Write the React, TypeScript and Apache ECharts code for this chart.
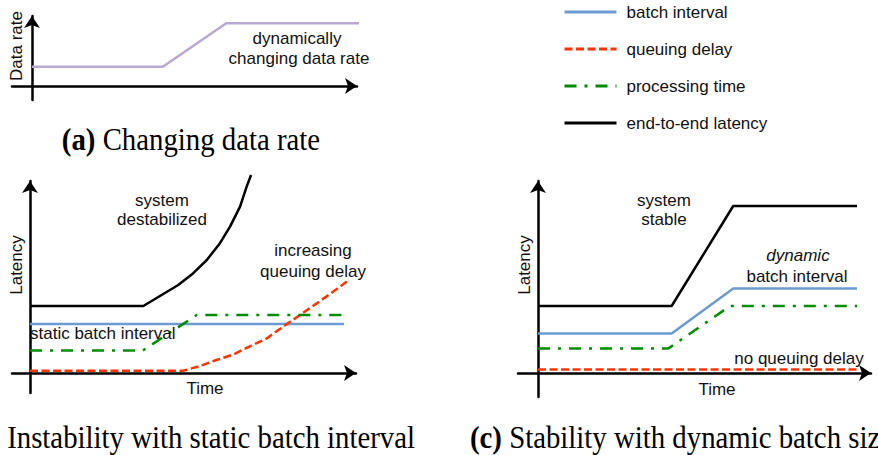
import React, { useEffect, useRef } from "react";
import * as echarts from "echarts";

// ---------- data (abstract units: time along x, latency / rate along y) ----------
// (a) changing data rate
const rateX = [0, 4.0, 5.94, 10];
const rateY = [1.93, 1.93, 6.27, 6.27];

// (b) static batch interval
const bBatchX = [0, 10];
const bBatchY = [2.45, 2.45];
const bQueueX = [0, 4.88, 5.41, 5.94, 6.48, 7.0, 7.54, 8.07, 8.6, 9.13, 9.66, 10.09];
const bQueueY = [0.11, 0.11, 0.35, 0.65, 0.93, 1.33, 1.73, 2.33, 2.9, 3.48, 4.07, 4.57];
const bProcX = [0, 3.59, 5.31, 9.97];
const bProcY = [1.12, 1.12, 2.9, 2.9];
const bLatX = [0, 3.61, 4.72, 5.2, 5.63, 6.05, 6.37, 6.69, 6.9, 7.04];
const bLatY = [3.35, 3.35, 4.4, 4.99, 5.65, 6.49, 7.32, 8.32, 9.32, 9.9];

// (c) dynamic batch interval
const cBatchX = [0, 4.19, 6.12, 10];
const cBatchY = [1.98, 1.98, 4.23, 4.23];
const cQueueX = [0, 10];
const cQueueY = [0.17, 0.17];
const cProcX = [0, 4.09, 6.02, 10];
const cProcY = [1.23, 1.23, 3.35, 3.35];
const cLatX = [0, 4.19, 6.12, 10];
const cLatY = [3.35, 3.35, 8.35, 8.35];

const legendNames = ["batch interval", "queuing delay", "processing time", "end-to-end latency"];

// ---------- styles ----------
const SANS = "'Liberation Sans', Arial, sans-serif";
const SERIF = "'Liberation Serif', 'Times New Roman', serif";
const BLUE = "#6b9bd2";
const RED = "#ff3300";
const GREEN = "#008c00";
const BLACK = "#000000";
const PURPLE = "#b9a9d2";
const LW = 2.5;
const ARROW = 12;

const styleOf: Record<string, any> = {
  "batch interval": { color: BLUE, width: LW, type: "solid" },
  "queuing delay": { color: RED, width: LW, type: [8, 3.5] },
  "processing time": { color: GREEN, width: LW, type: [12, 8, 3, 8] },
  "end-to-end latency": { color: BLACK, width: LW, type: "solid" },
};

// panel layout: origin pixel, pixels per unit, axis extents (start, arrow tip)
const panels = [
  { origin: [32, 86], px: [32.7, 10], xExt: [12, 363], yExt: [100, 10] },
  { origin: [30, 373], px: [31.4, 20], xExt: [12, 362], yExt: [393, 175] },
  { origin: [538, 373], px: [31.9, 20], xExt: [518, 877], yExt: [397, 175] },
];

const zip = (xs: number[], ys: number[]) => xs.map((x, i) => [x, ys[i]]);

function buildOption() {
  const half = ARROW / 2;
  const grid: any[] = [];
  const xAxis: any[] = [];
  const yAxis: any[] = [];
  const axisCommon = () => ({
    type: "value",
    axisLine: {
      show: true,
      onZero: true,
      symbol: ["none", "arrow"],
      symbolSize: [ARROW, ARROW],
      lineStyle: { color: BLACK, width: LW },
    },
    axisTick: { show: false },
    axisLabel: { show: false },
    splitLine: { show: false },
  });
  panels.forEach((p, i) => {
    const [ox, oy] = p.origin;
    const [pxX, pxY] = p.px;
    const left = p.xExt[0];
    const right = p.xExt[1] - half;
    const top = p.yExt[1] + half;
    const bottom = p.yExt[0];
    grid.push({ left, top, width: right - left, height: bottom - top, containLabel: false });
    xAxis.push({ ...axisCommon(), gridIndex: i, min: (left - ox) / pxX, max: (right - ox) / pxX });
    yAxis.push({ ...axisCommon(), gridIndex: i, min: (oy - bottom) / pxY, max: (oy - top) / pxY });
  });

  const line = (name: string, idx: number, data: number[][], style: any) => ({
    type: "line",
    name,
    xAxisIndex: idx,
    yAxisIndex: idx,
    data,
    symbol: "none",
    showSymbol: false,
    clip: false,
    silent: true,
    lineStyle: style,
    itemStyle: { color: style.color },
    z: 3,
  });

  const series = [
    line("data rate", 0, zip(rateX, rateY), { color: PURPLE, width: LW, type: "solid" }),
    line("batch interval", 1, zip(bBatchX, bBatchY), styleOf["batch interval"]),
    line("queuing delay", 1, zip(bQueueX, bQueueY), styleOf["queuing delay"]),
    line("processing time", 1, zip(bProcX, bProcY), styleOf["processing time"]),
    line("end-to-end latency", 1, zip(bLatX, bLatY), styleOf["end-to-end latency"]),
    line("batch interval", 2, zip(cBatchX, cBatchY), styleOf["batch interval"]),
    line("queuing delay", 2, zip(cQueueX, cQueueY), styleOf["queuing delay"]),
    line("processing time", 2, zip(cProcX, cProcY), styleOf["processing time"]),
    line("end-to-end latency", 2, zip(cLatX, cLatY), styleOf["end-to-end latency"]),
  ];

  const txt = (text: string, x: number, y: number, extra: any = {}, el: any = {}) => ({
    type: "text",
    x,
    y,
    silent: true,
    z: 10,
    ...el,
    style: {
      text,
      fill: "#111",
      fontFamily: SANS,
      fontSize: 17,
      align: "center",
      verticalAlign: "middle",
      textAlign: "center",
      textVerticalAlign: "middle",
      ...extra,
    },
  });

  const capRich = { b: { fontWeight: "bold", fontFamily: SERIF, fontSize: 32, fill: "#000" } };
  const cap = (text: string, x: number, y: number, align: string) =>
    txt(text, x, y, { fontFamily: SERIF, fontSize: 32, fill: "#000", align, textAlign: align, rich: capRich }, { scaleX: 0.9 });

  const graphic = [
    // panel a
    txt("Data rate", 16, 46, {}, { rotation: Math.PI / 2 }),
    txt("dynamically", 297, 38),
    txt("changing data rate", 299, 58),
    cap("{b|(a)} Changing data rate", 191, 139, "center"),
    // panel b
    txt("Latency", 16, 265, {}, { rotation: Math.PI / 2 }),
    txt("system", 162, 200),
    txt("destabilized", 162, 219),
    txt("increasing", 313, 250),
    txt("queuing delay", 313, 271),
    txt("static batch interval", 30, 333, { align: "left", textAlign: "left" }),
    txt("Time", 205, 388),
    cap("{b|(b)} Instability with static batch interval", 415, 437, "right"),
    // panel c
    txt("Latency", 524, 265, {}, { rotation: Math.PI / 2 }),
    txt("system", 664, 200),
    txt("stable", 664, 219),
    txt("dynamic", 798, 255, { fontStyle: "italic" }),
    txt("batch interval", 797, 276),
    txt("no queuing delay", 799, 358),
    txt("Time", 717, 389),
    cap("{b|(c)} Stability with dynamic batch size", 470, 437, "left"),
  ];

  return {
    animation: false,
    backgroundColor: "#ffffff",
    grid,
    xAxis,
    yAxis,
    legend: {
      data: legendNames,
      orient: "vertical",
      left: 558,
      top: -3,
      itemWidth: 52,
      itemHeight: 14,
      itemGap: 17,
      selectedMode: false,
      itemStyle: { opacity: 0 },
      lineStyle: { width: 3 },
      textStyle: { fontFamily: SANS, fontSize: 17, color: "#111", lineHeight: 20, padding: [0, 0, 0, 5] },
    },
    series,
    graphic,
  };
}

export default function App() {
  const ref = useRef<HTMLDivElement>(null);
  useEffect(() => {
    if (!ref.current) return;
    const chart = echarts.init(ref.current, undefined, { renderer: "svg" });
    chart.setOption(buildOption() as any);
    return () => chart.dispose();
  }, []);
  return (
    <div
      ref={ref}
      style={{ position: "fixed", left: 0, top: 0, width: 878, height: 455, background: "#fff" }}
    />
  );
}
